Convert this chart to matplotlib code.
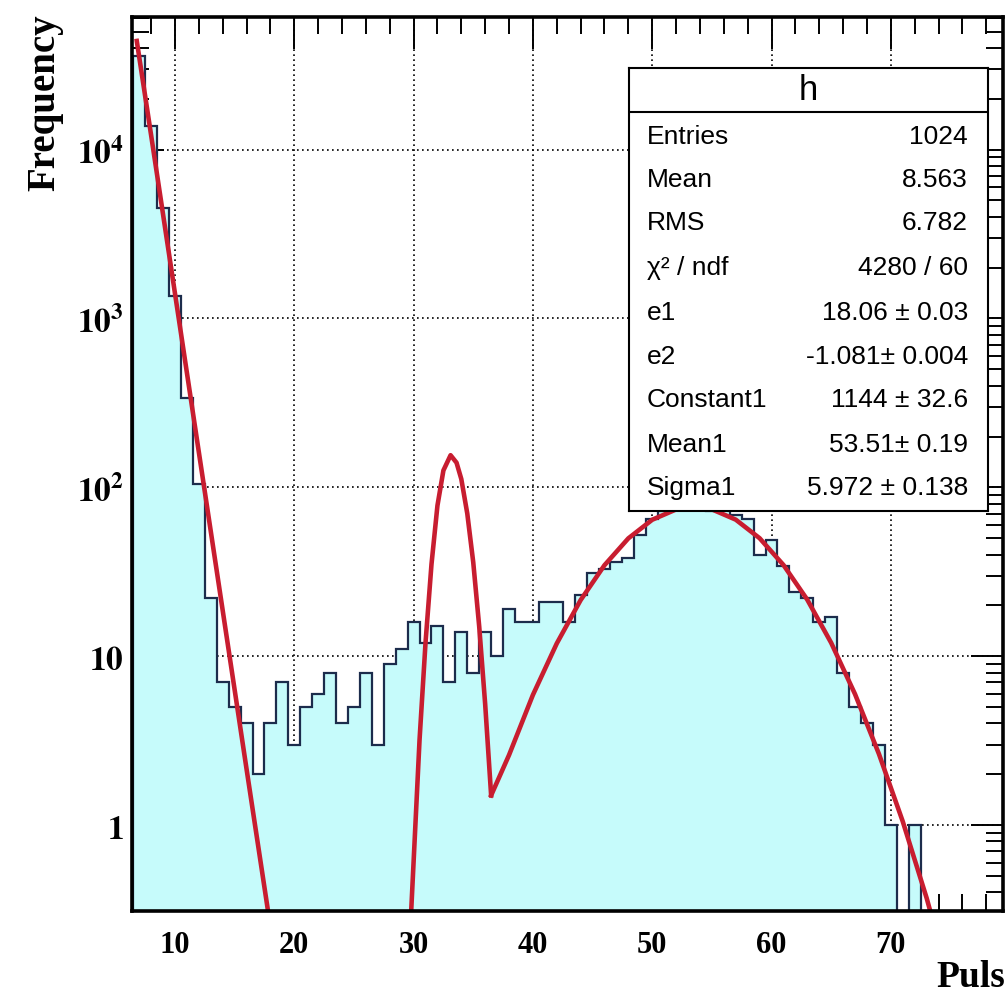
import numpy as np
import matplotlib
matplotlib.use("Agg")
import matplotlib.pyplot as plt
from matplotlib.ticker import FixedLocator, NullFormatter, LogLocator, MultipleLocator

# ---- data ----
bin_lo, bin_hi = 6.5, 79.5
counts = [36000, 13800, 4540, 1360, 336, 105, 22, 7, 5, 4,        # 7..16
          2, 4, 7, 3, 5, 6, 8, 4, 5, 8,                          # 17..26
          3, 9, 11, 16, 12, 15, 7, 14, 8, 14,                    # 27..36
          10, 19, 16, 16, 21, 21, 16, 23, 31, 33,                # 37..46
          36, 38, 52, 65, 72, 75, 76, 74, 72, 73,                # 47..56
          69, 65, 40, 49, 34, 24, 22, 16, 17, 8,                 # 57..66
          5, 4, 3, 1, 0, 1, 0, 0, 0, 0,                          # 67..76
          0, 0, 0]                                               # 77..79

fit_exp_x = [6.8, 8, 10, 12, 14, 16, 17.8]
fit_exp_y = [44000, 12200, 1410, 162, 18.7, 2.15, 0.31]
fit_spike_x = [29.8, 30.5, 31, 31.5, 32, 32.5, 33.1, 33.6, 34, 34.5, 35, 35.5, 36, 36.5]
fit_spike_y = [0.31, 3.2, 12, 35, 78, 126, 155, 140, 112, 70, 36, 15, 5.2, 1.5]
fit_gaus_x = [36.5, 38, 40, 42, 44, 46, 48, 50, 52, 53.5, 55, 57, 59, 61, 63, 65, 67, 69, 71, 73, 73.3]
fit_gaus_y = [1.5, 2.6, 5.9, 11.9, 21.5, 34.6, 49.9, 64.3, 74.0, 76.4, 74.1, 64.4, 50.0, 34.7,
              21.6, 12.0, 5.96, 2.64, 1.05, 0.37, 0.31]

x_ticks = [10, 20, 30, 40, 50, 60, 70]
y_ticks = [1, 10, 100, 1000, 10000]
y_ticklabels = [r'$\mathbf{1}$', r'$\mathbf{10}$', r'$\mathbf{10^{2}}$',
                r'$\mathbf{10^{3}}$', r'$\mathbf{10^{4}}$']

stats_title = "h"
stats_names = ["Entries", "Mean", "RMS", "\u03c7\u00b2 / ndf", "e1", "e2",
               "Constant1", "Mean1", "Sigma1"]
stats_values = ["1024", "8.563", "6.782", "4280 / 60", "18.06 \u00b1 0.03",
                "-1.081\u00b1 0.004", "1144 \u00b1 32.6", "53.51\u00b1 0.19",
                "5.972 \u00b1 0.138"]

# ---- figure ----
plt.rcParams['mathtext.fontset'] = 'stix'
W, H = 1006, 1003
fig = plt.figure(figsize=(W / 100, H / 100), dpi=100)
fig.patch.set_facecolor('white')

L, R, T, B = 132, 1003, 18, 912
ax = fig.add_axes([L / W, 1 - B / H, (R - L) / W, (B - T) / H])
ax.set_yscale('log')
ax.set_xlim(6.4, 79.4)
ax.set_ylim(0.31, 61000)

edges = np.arange(bin_lo, bin_hi + 0.5, 1.0)
vals = np.array(counts, dtype=float)
draw_vals = np.where(vals > 0, vals, 1e-3)

ax.set_axisbelow(True)
ax.grid(True, which='major', color='black', linestyle=(0, (1, 2.0)), linewidth=1.2)
ax.stairs(draw_vals, edges, baseline=1e-3, fill=True, color='#c6fbfb', zorder=2)
ax.stairs(draw_vals, edges, baseline=1e-3, color='#1c2c4c', linewidth=1.6, zorder=3)

red = '#c81d30'
for xs, ys in [(fit_exp_x, fit_exp_y), (fit_spike_x, fit_spike_y), (fit_gaus_x, fit_gaus_y)]:
    ax.plot(xs, ys, color=red, linewidth=3.3, zorder=4, solid_joinstyle='round')

ax.xaxis.set_major_locator(FixedLocator(x_ticks))
ax.xaxis.set_minor_locator(MultipleLocator(2))
ax.set_xticklabels([str(v) for v in x_ticks], fontfamily='Liberation Serif',
                   fontweight='bold', fontsize=22)
ax.yaxis.set_major_locator(FixedLocator(y_ticks))
ax.yaxis.set_minor_locator(LogLocator(base=10, subs=np.arange(2, 10)))
ax.yaxis.set_minor_formatter(NullFormatter())
ax.set_yticklabels(y_ticklabels, fontsize=24)

ax.tick_params(which='both', direction='in', top=True, right=True, colors='black', zorder=5)
ax.tick_params(which='major', length=23, width=1.4)
ax.tick_params(which='minor', length=12, width=1.4)
ax.tick_params(axis='x', which='major', pad=14)
ax.tick_params(axis='y', which='major', pad=6)
for s in ax.spines.values():
    s.set_linewidth(2.6)
    s.set_zorder(6)

fig.text(45 / W, 1 - 14 / H, "Frequency", rotation=90, ha='center', va='top',
         fontfamily='Liberation Serif', fontweight='bold', fontsize=28)
fig.text(1005 / W, 1 - 978 / H, "Puls", ha='right', va='center',
         fontfamily='Liberation Serif', fontweight='bold', fontsize=27)

# ---- stats box ----
bx0, bx1, by0, by1 = 629, 988, 69, 512
sb = fig.add_axes([bx0 / W, 1 - by1 / H, (bx1 - bx0) / W, (by1 - by0) / H])
sb.set_xlim(0, 1)
sb.set_ylim(0, 1)
sb.set_xticks([])
sb.set_yticks([])
sb.set_facecolor('white')
for s in sb.spines.values():
    s.set_linewidth(1.5)
bh = by1 - by0
sep = 1 - (112.7 - by0) / bh
sb.axhline(sep, color='black', linewidth=1.5)
sb.text(0.5, 1 - (91 - by0) / bh, stats_title, ha='center', va='center',
        fontfamily='Liberation Sans', fontsize=25)
row_py = [136.7, 180, 223.5, 268, 313, 357, 400.5, 445, 488.5]
for name, val, py in zip(stats_names, stats_values, row_py):
    yy = 1 - (py - by0) / bh
    sb.text(0.049, yy, name, ha='left', va='center', fontfamily='Liberation Sans', fontsize=19)
    sb.text(0.944, yy, val, ha='right', va='center', fontfamily='Liberation Sans', fontsize=19)

fig.savefig("out.png", dpi=100)
